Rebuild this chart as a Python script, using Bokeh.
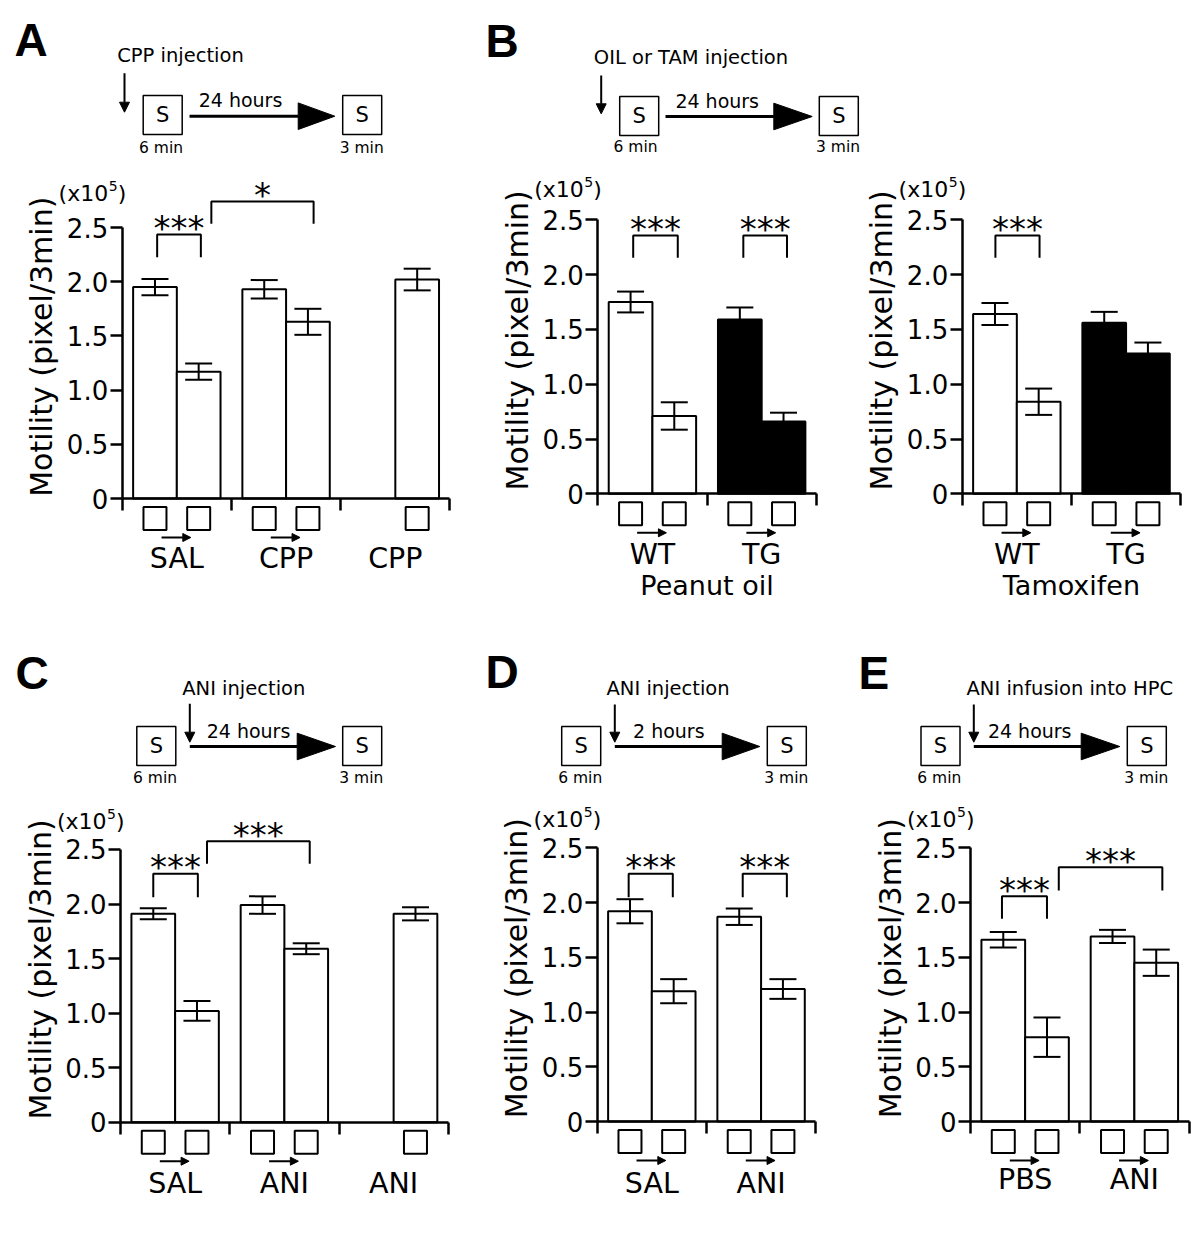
import math
from bokeh.plotting import figure
from bokeh.models import (ColumnDataSource, LinearAxis, FixedTicker, Whisker,
                          TeeHead, Arrow, NormalHead, Range1d)
from bokeh.layouts import row, column
from bokeh.core.properties import value
from bokeh.embed import file_html
from bokeh.resources import INLINE

FONT = "DejaVu Sans"
BOLD_FONT = "Liberation Sans"

# ---------------- data (x10^5 pixel/3min) ----------------
Y_TICKS = [0, 0.5, 1.0, 1.5, 2.0, 2.5]
Y_TICK_LABELS = ["0", "0.5", "1.0", "1.5", "2.0", "2.5"]
Y_LABEL = "Motility (pixel/3min)"

# Panel A
A_GROUPS = ["SAL", "CPP", "CPP"]
A_BAR_GROUP = [0, 0, 1, 1, 2]
A_BAR_SLOT = [0, 1, 0, 1, 1]
A_MEANS = [1.95, 1.17, 1.93, 1.63, 2.02]
A_SEMS = [0.075, 0.075, 0.085, 0.12, 0.10]
A_COLORS = ["white", "white", "white", "white", "white"]
A_SIG = [(0.80, 1.80, 2.435, 2.225, "***"), (2.04, 4.38, 2.74, 2.535, "*")]

# Panel B (peanut oil)
B1_GROUPS = ["WT", "TG"]
B1_BAR_GROUP = [0, 0, 1, 1]
B1_BAR_SLOT = [0, 1, 0, 1]
B1_MEANS = [1.75, 0.71, 1.59, 0.66]
B1_SEMS = [0.095, 0.125, 0.11, 0.08]
B1_COLORS = ["white", "white", "black", "black"]
B1_SIG = [(0.81, 1.83, 2.357, 2.153, "***"), (3.33, 4.33, 2.357, 2.153, "***")]
B1_TREAT = "Peanut oil"

# Panel B (tamoxifen)
B2_GROUPS = ["WT", "TG"]
B2_BAR_GROUP = [0, 0, 1, 1]
B2_BAR_SLOT = [0, 1, 0, 1]
B2_MEANS = [1.64, 0.84, 1.56, 1.28]
B2_SEMS = [0.10, 0.12, 0.10, 0.10]
B2_COLORS = ["white", "white", "black", "black"]
B2_SIG = [(0.76, 1.77, 2.357, 2.153, "***")]
B2_TREAT = "Tamoxifen"

# Panel C
C_GROUPS = ["SAL", "ANI", "ANI"]
C_BAR_GROUP = [0, 0, 1, 1, 2]
C_BAR_SLOT = [0, 1, 0, 1, 1]
C_MEANS = [1.91, 1.02, 1.99, 1.59, 1.91]
C_SEMS = [0.05, 0.09, 0.08, 0.05, 0.06]
C_COLORS = ["white"] * 5
C_SIG = [(0.75, 1.77, 2.277, 2.062, "***"), (1.98, 4.33, 2.576, 2.368, "***")]

# Panel D
D_GROUPS = ["SAL", "ANI"]
D_BAR_GROUP = [0, 0, 1, 1]
D_BAR_SLOT = [0, 1, 0, 1]
D_MEANS = [1.92, 1.19, 1.87, 1.21]
D_SEMS = [0.11, 0.11, 0.075, 0.09]
D_COLORS = ["white"] * 4
D_SIG = [(0.72, 1.73, 2.262, 2.049, "***"), (3.33, 4.34, 2.262, 2.049, "***")]

# Panel E
E_GROUPS = ["PBS", "ANI"]
E_BAR_GROUP = [0, 0, 1, 1]
E_BAR_SLOT = [0, 1, 0, 1]
E_MEANS = [1.66, 0.77, 1.69, 1.45]
E_SEMS = [0.07, 0.18, 0.06, 0.12]
E_COLORS = ["white"] * 4
E_SIG = [(0.72, 1.75, 2.058, 1.851, "***"), (2.02, 4.39, 2.322, 2.11, "***")]

# ---------------- schematic texts and layout (page pixels, text = vertical centre) ----------
SCH_A = dict(title="CPP injection", title_xy=(116.7, 55), drop_x=124, drop_y=(72.7, 111.7),
             box_y=114.5, box_x=(162.2, 361.7), line_y=115.7, line_x=(189, 334.3), head=297.7,
             hours="24 hours", hours_xy=(240, 99.7), min_y=147.2, min_x=(160.5, 361.2))
SCH_B = dict(title="OIL or TAM injection", title_xy=(593.3, 56.7), drop_x=600.7, drop_y=(75, 113.3),
             box_y=115.5, box_x=(638.7, 838.3), line_y=116, line_x=(665, 811.7), head=773.3,
             hours="24 hours", hours_xy=(716.7, 100.3), min_y=146.2, min_x=(635, 837.5))
SCH_C = dict(title="ANI injection", title_xy=(181.7, 687.5), drop_x=189.3, drop_y=(703.3, 741.7),
             box_y=745.5, box_x=(155.8, 361.7), line_y=746, line_x=(189.3, 335), head=296.7,
             hours="24 hours", hours_xy=(248, 730), min_y=777.8, min_x=(154.5, 360.8))
SCH_D = dict(title="ANI injection", title_xy=(606, 687.5), drop_x=614.3, drop_y=(704, 741.7),
             box_y=745.5, box_x=(580.7, 786.3), line_y=746, line_x=(614.3, 759.3), head=721.7,
             hours="2 hours", hours_xy=(668.3, 730), min_y=777.8, min_x=(579.7, 785.8))
SCH_E = dict(title="ANI infusion into HPC", title_xy=(966, 687.5), drop_x=973.3, drop_y=(704, 741.7),
             box_y=745.5, box_x=(940, 1146.3), line_y=746, line_x=(973.3, 1119.3), head=1080.7,
             hours="24 hours", hours_xy=(1029.2, 730), min_y=777.8, min_x=(938.8, 1145.8))

BW = 43.7   # pixels per bar
GW = 2.5    # group width in bar units


def txt(p, x, y, s, size, align="left", baseline="middle", angle=0.0, font=FONT, style="normal"):
    p.text(x=[x], y=[y], text=[s], text_font=value(font), text_font_size=value(size),
           text_align=align, text_baseline=baseline, angle=angle, text_color="black",
           text_font_style=style)


def make_panel(box, origin, ky, groups, bar_group, bar_slot, means, sems, colors, sig,
               treatment=None, letter=None, letter_xy=None, sch=None, exp_dy=28,
               lab_dy=60, treat_dy=91):
    L, T, W, H = box
    x0, y0 = origin
    X = lambda px: (px - x0) / BW
    Y = lambda py: (y0 - py) / ky
    p = figure(width=W, height=H, x_range=Range1d(X(L), X(L + W)),
               y_range=Range1d(Y(T + H), Y(T)), output_backend="svg",
               toolbar_location=None, tools="", x_axis_location=None, y_axis_location=None,
               min_border=0, title=None)
    p.outline_line_color = None
    p.background_fill_color = "white"
    p.border_fill_color = "white"
    p.grid.visible = False

    ng = len(groups)
    xc = [g * GW + 0.75 + s for g, s in zip(bar_group, bar_slot)]
    src = ColumnDataSource(dict(x=xc, top=means,
                                upper=[m + e for m, e in zip(means, sems)],
                                lower=[m - e for m, e in zip(means, sems)],
                                color=colors))
    p.vbar(x="x", top="top", bottom=0, width=1, fill_color="color", line_color="black",
           line_width=2, source=src)
    p.add_layout(Whisker(base="x", upper="upper", lower="lower", source=src, level="overlay",
                         line_width=2, line_color="black",
                         upper_head=TeeHead(size=27, line_width=2, line_color="black"),
                         lower_head=TeeHead(size=27, line_width=2, line_color="black")))

    # axes
    yax = LinearAxis(fixed_location=0, bounds=(0, 2.5),
                     ticker=FixedTicker(ticks=Y_TICKS, minor_ticks=[]),
                     major_label_overrides=dict(zip(Y_TICKS, Y_TICK_LABELS)),
                     major_tick_in=0, major_tick_out=12, minor_tick_in=0, minor_tick_out=0,
                     axis_line_width=2.5, major_tick_line_width=2.5,
                     axis_line_color="black", major_tick_line_color="black",
                     major_label_text_font=FONT, major_label_text_font_size="26px",
                     major_label_text_color="black", major_label_standoff=2)
    p.add_layout(yax, "left")
    xax = LinearAxis(fixed_location=0, bounds=(0, ng * GW),
                     ticker=FixedTicker(ticks=[k * GW for k in range(ng + 1)], minor_ticks=[]),
                     major_tick_in=0, major_tick_out=12, minor_tick_in=0, minor_tick_out=0,
                     axis_line_width=2.5, major_tick_line_width=2.5,
                     axis_line_color="black", major_tick_line_color="black",
                     major_label_text_color=None)
    p.add_layout(xax, "below")

    # y label and exponent
    txt(p, -80.5 / BW, 1.40, Y_LABEL, "30px", align="center", angle=math.pi / 2)
    ey = 2.5 + exp_dy / ky
    txt(p, -14 / BW, ey, "(x10", "22px", align="right")
    txt(p, -13.5 / BW, ey + 7.5 / ky, "5", "14px", align="left")
    txt(p, -4.5 / BW, ey, ")", "22px", align="left")

    # session squares, arrows and group labels
    p.scatter(x=xc, y=[-20 / ky] * len(xc), marker="square", size=23, fill_color=None,
              line_color="black", line_width=2)
    for g in range(ng):
        slots = [s for gg, s in zip(bar_group, bar_slot) if gg == g]
        if 0 in slots and 1 in slots:
            p.add_layout(Arrow(x_start=g * GW + 0.75 + 0.15, y_start=-39 / ky,
                               x_end=g * GW + 1.75 - 0.18, y_end=-39 / ky, line_width=2,
                               line_color="black",
                               end=NormalHead(size=8, fill_color="black", line_color="black",
                                              line_width=1)))
        txt(p, g * GW + 1.25, -lab_dy / ky, groups[g], "28.5px", align="center")
    if treatment:
        txt(p, ng * GW / 2, -treat_dy / ky, treatment, "27px", align="center")

    # significance brackets
    for xl, xr, top, bot, stars in sig:
        p.multi_line(xs=[[xl, xl, xr, xr]], ys=[[bot, top, top, bot]], line_width=2,
                     line_color="black")
        txt(p, (xl + xr) / 2, top + 6.5 / ky, stars, "34px", align="center")

    # panel letter
    if letter:
        txt(p, X(letter_xy[0]), Y(letter_xy[1]), letter, "46px", font=BOLD_FONT, style="bold")

    # experiment schematic
    if sch:
        txt(p, X(sch["title_xy"][0]), Y(sch["title_xy"][1]), sch["title"], "19.5px")
        p.add_layout(Arrow(x_start=X(sch["drop_x"]), y_start=Y(sch["drop_y"][0]),
                           x_end=X(sch["drop_x"]), y_end=Y(sch["drop_y"][1]), line_width=2,
                           line_color="black",
                           end=NormalHead(size=10, fill_color="black", line_color="black",
                                          line_width=1)))
        p.scatter(x=[X(bx) for bx in sch["box_x"]], y=[Y(sch["box_y"])] * 2, marker="square",
                  size=39, fill_color=None, line_color="black", line_width=1.5)
        for bx in sch["box_x"]:
            txt(p, X(bx), Y(sch["box_y"]), "S", "21px", align="center")
        for mx, lab in zip(sch["min_x"], ["6 min", "3 min"]):
            txt(p, X(mx), Y(sch["min_y"]), lab, "15.5px", align="center")
        ly = sch["line_y"]
        p.segment(x0=[X(sch["line_x"][0])], y0=[Y(ly)], x1=[X(sch["head"])], y1=[Y(ly)],
                  line_width=3, line_color="black")
        p.patch(x=[X(sch["line_x"][1]), X(sch["head"]), X(sch["head"])],
                y=[Y(ly), Y(ly - 13.3), Y(ly + 13.3)], fill_color="black", line_color="black",
                line_width=1)
        txt(p, X(sch["hours_xy"][0]), Y(sch["hours_xy"][1]), sch["hours"], "19px", align="center")
    return p


TOP, TOP_H = 0, 628
BOT, BOT_H = 628, 624

pA = make_panel((0, TOP, 480, TOP_H), (121.7, 498), 108.4, A_GROUPS, A_BAR_GROUP, A_BAR_SLOT,
                A_MEANS, A_SEMS, A_COLORS, A_SIG, letter="A", letter_xy=(14, 39.5), sch=SCH_A,
                exp_dy=34, lab_dy=60)
pB1 = make_panel((480, TOP, 384, TOP_H), (597.3, 493.3), 109.6, B1_GROUPS, B1_BAR_GROUP,
                 B1_BAR_SLOT, B1_MEANS, B1_SEMS, B1_COLORS, B1_SIG, treatment=B1_TREAT,
                 letter="B", letter_xy=(485, 40), sch=SCH_B, exp_dy=30, lab_dy=61, treat_dy=92)
pB2 = make_panel((864, TOP, 334, TOP_H), (961.7, 493.3), 109.6, B2_GROUPS, B2_BAR_GROUP,
                 B2_BAR_SLOT, B2_MEANS, B2_SEMS, B2_COLORS, B2_SIG, treatment=B2_TREAT,
                 exp_dy=30, lab_dy=61, treat_dy=92)
pC = make_panel((0, BOT, 480, BOT_H), (120, 1121.7), 109.1, C_GROUPS, C_BAR_GROUP, C_BAR_SLOT,
                C_MEANS, C_SEMS, C_COLORS, C_SIG, letter="C", letter_xy=(15, 672), sch=SCH_C,
                lab_dy=61)
pD = make_panel((480, BOT, 370, BOT_H), (596.7, 1121), 109.5, D_GROUPS, D_BAR_GROUP, D_BAR_SLOT,
                D_MEANS, D_SEMS, D_COLORS, D_SIG, letter="D", letter_xy=(485, 671), sch=SCH_D,
                lab_dy=62)
pE = make_panel((850, BOT, 348, BOT_H), (970, 1121), 109.5, E_GROUPS, E_BAR_GROUP, E_BAR_SLOT,
                E_MEANS, E_SEMS, E_COLORS, E_SIG, letter="E", letter_xy=(858, 672), sch=SCH_E,
                lab_dy=58)

layout = column(row(pA, pB1, pB2), row(pC, pD, pE))
open("out.html", "w").write(file_html(layout, INLINE))
